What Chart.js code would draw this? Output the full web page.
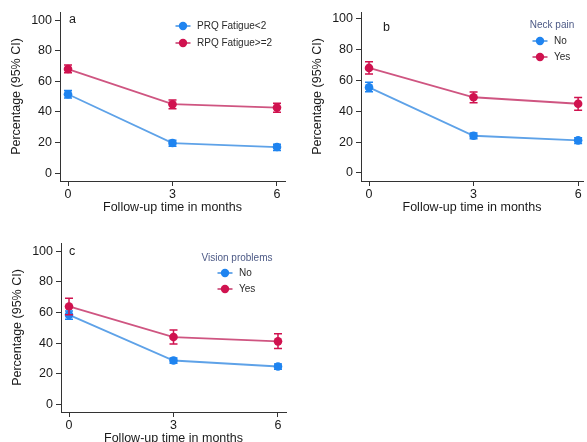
<!DOCTYPE html>
<html><head><meta charset="utf-8">
<script src="https://cdn.jsdelivr.net/npm/chart.js@4"></script>
<style>
html,body{margin:0;padding:0;background:#fff;overflow:hidden;width:587px;height:442px;position:relative}
canvas{position:absolute;display:block}
</style></head><body>
<canvas id="ca" width="290" height="220" style="left:0;top:0"></canvas>
<canvas id="cb" width="287" height="220" style="left:301px;top:0"></canvas>
<canvas id="cc" width="290" height="220" style="left:1px;top:231px"></canvas>
<script>
// ---- data ----
const months = [0, 3, 6];
const yTicks = [0, 20, 40, 60, 80, 100];
const xTitle = 'Follow-up time in months';
const yTitle = 'Percentage (95% CI)';

const aLabels = ['PRQ Fatigue<2', 'RPQ Fatigue>=2'];
const aLow = [51.5, 19.6, 17.0];
const aLowLo = [49.0, 17.6, 14.8];
const aLowHi = [54.0, 21.4, 18.8];
const aHigh = [68.0, 45.0, 42.8];
const aHighLo = [65.6, 42.0, 39.8];
const aHighHi = [70.6, 47.8, 45.6];

const bTitle = 'Neck pain';
const bLabels = ['No', 'Yes'];
const bNo = [55.4, 24.1, 21.1];
const bNoLo = [52.6, 22.2, 19.1];
const bNoHi = [58.7, 25.8, 22.8];
const bYes = [68.0, 49.0, 44.8];
const bYesLo = [64.0, 45.4, 40.6];
const bYesHi = [72.0, 52.4, 48.9];

const cTitle = 'Vision problems';
const cLabels = ['No', 'Yes'];
const cNo = [58.4, 28.6, 24.7];
const cNoLo = [55.6, 26.8, 22.9];
const cNoHi = [61.0, 30.3, 26.4];
const cYes = [63.9, 43.9, 41.1];
const cYesLo = [58.4, 39.4, 36.4];
const cYesHi = [69.3, 48.5, 46.1];

// ---- styles ----
const FONT = '"Liberation Sans", Arial, Helvetica, sans-serif';
const BLUE = '#1f84f0', BLUE_L = '#5ea2e8';
const RED = '#d0124f', RED_L = '#cf5581';
const AXIS = '#333333';

const pts = arr => arr.map((v, i) => ({x: months[i], y: v}));

function ds(label, vals, lo, hi, mark, line) {
  return {
    label, data: pts(vals), lo, hi,
    borderColor: line, backgroundColor: mark, borderWidth: 1.8,
    pointRadius: 4.3, pointHoverRadius: 4.3, pointBackgroundColor: mark,
    pointBorderColor: mark, pointBorderWidth: 0, tension: 0,
    errColor: mark
  };
}

const errorBars = {
  id: 'errorBars',
  afterDatasetsDraw(chart) {
    const {ctx, scales: {x, y}} = chart;
    chart.data.datasets.forEach(d => {
      ctx.save();
      ctx.strokeStyle = d.errColor;
      ctx.lineWidth = 1.5;
      d.data.forEach((p, i) => {
        const px = x.getPixelForValue(p.x);
        const y1 = y.getPixelForValue(d.lo[i]);
        const y2 = y.getPixelForValue(d.hi[i]);
        ctx.beginPath();
        ctx.moveTo(px, y1); ctx.lineTo(px, y2);
        ctx.moveTo(px - 4, y1); ctx.lineTo(px + 4, y1);
        ctx.moveTo(px - 4, y2); ctx.lineTo(px + 4, y2);
        ctx.stroke();
      });
      ctx.restore();
    });
  }
};

const deco = {
  id: 'deco',
  afterDraw(chart, args, o) {
    const ctx = chart.ctx;
    ctx.save();
    ctx.textBaseline = 'middle';
    ctx.fillStyle = '#1a1a1a';
    ctx.font = '12.5px ' + FONT;
    ctx.textAlign = 'left';
    ctx.fillText(o.label, o.labelX, o.labelY);
    ctx.font = '10px ' + FONT;
    if (o.title) {
      ctx.fillStyle = '#4d5a86';
      ctx.textAlign = 'center';
      ctx.fillText(o.title, o.titleX, o.titleY);
    }
    chart.data.datasets.forEach((d, i) => {
      const yy = o.itemY0 + i * o.itemDy;
      ctx.strokeStyle = d.borderColor;
      ctx.lineWidth = 1.8;
      ctx.beginPath();
      ctx.moveTo(o.markX - 7.5, yy); ctx.lineTo(o.markX + 7.5, yy);
      ctx.stroke();
      ctx.fillStyle = d.pointBackgroundColor;
      ctx.beginPath();
      ctx.arc(o.markX, yy, 4.2, 0, Math.PI * 2);
      ctx.fill();
      ctx.fillStyle = '#2a2a2a';
      ctx.textAlign = 'left';
      ctx.fillText(d.label, o.textX, yy);
    });
    ctx.restore();
  }
};

function make(id, datasets, geom, decoOpts) {
  return new Chart(document.getElementById(id), {
    type: 'line',
    data: {datasets},
    plugins: [errorBars, deco],
    options: {
      responsive: false, animation: false,
      layout: {padding: {top: 12, right: geom.right, left: 0, bottom: 0}},
      plugins: {legend: {display: false}, tooltip: {enabled: false}, deco: decoOpts},
      scales: {
        x: {
          type: 'linear', min: geom.xMin, max: geom.xMax,
          afterBuildTicks: s => { s.ticks = months.map(v => ({value: v})); },
          afterFit: s => { s.height = 39; },
          ticks: {font: {family: FONT, size: 12.5}, color: '#1a1a1a', padding: 1, maxRotation: 0},
          grid: {drawOnChartArea: false, drawTicks: true, tickLength: 5, color: AXIS},
          border: {display: true, color: AXIS, width: 1},
          title: {display: true, text: xTitle, font: {family: FONT, size: 12.5}, color: '#1a1a1a', padding: {top: 0, bottom: 5}}
        },
        y: {
          type: 'linear', min: geom.yMin, max: geom.yMax,
          afterBuildTicks: s => { s.ticks = yTicks.map(v => ({value: v})); },
          afterFit: s => { s.width = 60; },
          ticks: {font: {family: FONT, size: 12.5}, color: '#1a1a1a', padding: 3},
          grid: {drawOnChartArea: false, drawTicks: true, tickLength: 5, color: AXIS},
          border: {display: true, color: AXIS, width: 1},
          title: {display: true, text: yTitle, font: {family: FONT, size: 12.5}, color: '#1a1a1a', padding: {top: 9.5, bottom: 0}}
        }
      }
    }
  });
}

make('ca', [
  ds(aLabels[0], aLow, aLowLo, aLowHi, BLUE, BLUE_L),
  ds(aLabels[1], aHigh, aHighLo, aHighHi, RED, RED_L)
], {right: 5, xMin: -0.23, xMax: 6.23, yMin: -5.2, yMax: 105.3},
 {label: 'a', labelX: 69, labelY: 20, markX: 183, textX: 197, itemY0: 26, itemDy: 17});

make('cb', [
  ds(bLabels[0], bNo, bNoLo, bNoHi, BLUE, BLUE_L),
  ds(bLabels[1], bYes, bYesLo, bYesHi, RED, RED_L)
], {right: 5, xMin: -0.23, xMax: 6.14, yMin: -5.2, yMax: 104.2},
 {label: 'b', labelX: 82, labelY: 28, title: bTitle, titleX: 251, titleY: 25, markX: 239, textX: 253, itemY0: 41, itemDy: 16});

make('cc', [
  ds(cLabels[0], cNo, cNoLo, cNoHi, BLUE, BLUE_L),
  ds(cLabels[1], cYes, cYesLo, cYesHi, RED, RED_L)
], {right: 5, xMin: -0.23, xMax: 6.23, yMin: -5.0, yMax: 105.3},
 {label: 'c', labelX: 68, labelY: 21, title: cTitle, titleX: 236, titleY: 27, markX: 224, textX: 238, itemY0: 42, itemDy: 16});
</script>
</body></html>
